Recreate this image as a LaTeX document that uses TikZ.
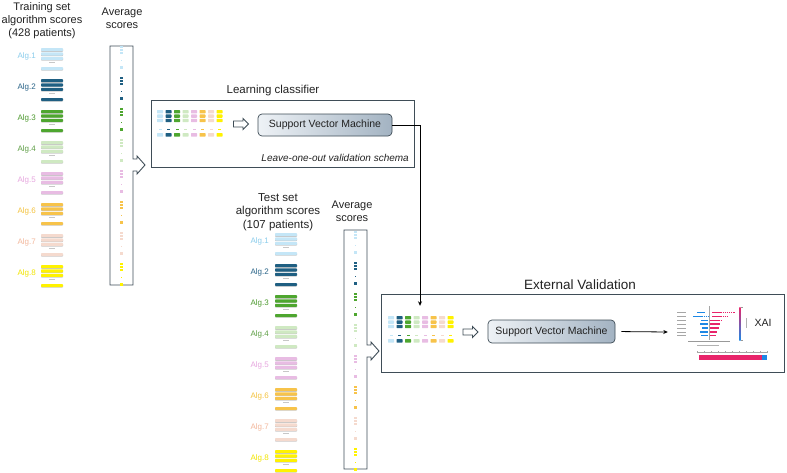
\documentclass[tikz,border=0pt]{standalone}
\usepackage{fontspec}
\setmainfont{Liberation Sans}
\usetikzlibrary{shapes.arrows,positioning,arrows.meta}

\definecolor{algA}{HTML}{C4E6F7}
\definecolor{algB}{HTML}{1F5F82}
\definecolor{algC}{HTML}{4EA62F}
\definecolor{algD}{HTML}{CFE9C2}
\definecolor{algE}{HTML}{E8BCE3}
\definecolor{algF}{HTML}{F7C34A}
\definecolor{algG}{HTML}{F5DACE}
\definecolor{algH}{HTML}{FFF200}
\definecolor{labA}{HTML}{8ACCEB}
\definecolor{labB}{HTML}{2A6488}
\definecolor{labC}{HTML}{4E9A30}
\definecolor{labD}{HTML}{5E9E45}
\definecolor{labE}{HTML}{E6A6DE}
\definecolor{labF}{HTML}{F3C23E}
\definecolor{labG}{HTML}{F2B79C}
\definecolor{labH}{HTML}{F1E400}
\definecolor{inkgray}{HTML}{222222}
\definecolor{framegray}{HTML}{3F4D57}
\definecolor{svmL}{HTML}{EEF2F6}
\definecolor{svmR}{HTML}{A3B3C2}
\definecolor{shapblue}{HTML}{1E88E5}
\definecolor{shappink}{HTML}{E8246A}

\tikzstyle{every picture}=[x=1pt, y=-1pt, >={Stealth[length=4.5pt,width=4pt]}]

% bars of one algorithm (three rows, separator, last row)
\newcommand{\scoregroup}[3]{%
  \foreach \k in {0,1,2}{
    \fill[black!22,rounded corners=0.8pt] (#1,#2+\k*4.4+0.7) rectangle ++(22,3.1);
    \fill[#3,rounded corners=0.8pt] (#1,#2+\k*4.4) rectangle ++(22,3.1);
  }
  \fill[black!22] (#1+8,#2+14) rectangle ++(6,0.8);
  \fill[black!22,rounded corners=0.8pt] (#1,#2+19.7) rectangle ++(22,3);
  \fill[#3,rounded corners=0.8pt] (#1,#2+19) rectangle ++(22,3);
}
% small marks inside an average column
\newcommand{\avgmarks}[3]{%
  \foreach \k in {0,1,2}
    \fill[#3] (#1-1.6,#2-2+\k*3) rectangle ++(3.2,2.2);
  \fill[#3] (#1-0.6,#2+12) rectangle ++(1.2,1.2);
  \fill[#3] (#1-1.6,#2+18) rectangle ++(3.2,2.5);
}
% average column with its arrow
\newcommand{\avgcolumn}[4]{%
  \draw[draw=framegray, line width=0.9pt, line join=miter]
    (#1,#2) -- (#1+23,#2) -- (#1+23,#4-6) -- (#1+27,#4-6) -- (#1+27,#4-9)
    -- (#1+35,#4) -- (#1+27,#4+9) -- (#1+27,#4+6) -- (#1+23,#4+6)
    -- (#1+23,#3) -- (#1,#3) -- cycle;
}
% averaged scores as fed to the classifier
\newcommand{\minigrid}[2]{%
  \foreach \col [count=\j from 0] in {algA,algB,algC,algD,algE,algF,algG,algH}{
    \foreach \k in {0,1,2}
      \fill[\col,rounded corners=0.6pt] (#1+\j*8.5,#2+\k*4.4) rectangle ++(6,3.4);
    \fill[\col] (#1+\j*8.5+1.5,#2+19) rectangle ++(3,1);
    \fill[\col,rounded corners=0.6pt] (#1+\j*8.5,#2+23) rectangle ++(6,3.6);
  }}

\begin{document}
\begin{tikzpicture}[
	title/.style={font=\fontsize{11}{13}\selectfont, text=inkgray, align=center, inner sep=0pt},
	alglabel/.style={font=\fontsize{8}{9}\selectfont, anchor=east, inner sep=0pt},
	panel/.style={draw=framegray, line width=1pt, fill=white},
	svmnode/.style={draw=framegray, line width=0.7pt, rounded corners=4pt,
		left color=svmL, right color=svmR, text=inkgray,
		font=\fontsize{10.5}{12}\selectfont, inner sep=0pt},
	hollow/.style={single arrow, draw=framegray, fill=white, line width=0.8pt,
		minimum height=15pt, minimum width=11pt, inner sep=2.6pt,
		single arrow head extend=2.6pt},
	link/.style={->, draw=black, line width=0.8pt}
	]
	\useasboundingbox (0,0) rectangle (787,472);

	% TRAINING SET
	\node [title] (traintitle) at (42,21) {Training set\\algorithm scores\\(428 patients)};
	\node [title] (trainavg) at (122,18) {Average\\scores};
	\avgcolumn{110}{46}{285}{165}
	\foreach \bar/\lab [count=\i] in {algA/labA,algB/labB,algC/labC,algD/labD,
			algE/labE,algF/labF,algG/labG,algH/labH}{
		\pgfmathsetmacro\gy{48+(\i-1)*31}
		\node [alglabel, text=\lab] (trainalg\i) at (36,\gy+8) {Alg.\i};
		\scoregroup{41}{\gy}{\bar}
		\avgmarks{121.5}{\gy}{\bar}
	}

	% LEARNING
	\node [panel, minimum width=263pt, minimum height=67pt] (learnbox) at (282.5,133.5) {};
	\node [title, font=\fontsize{11.5}{13}\selectfont] (learntitle) at (273,91) {Learning classifier};
	\minigrid{157}{110}
	\node [hollow] (learnarrow) at (239.5,124) {};
	\node [svmnode, minimum width=134pt, minimum height=22pt] (learnsvm) at (325,125) {Support Vector Machine};
	\node [font=\fontsize{10}{12}\selectfont\itshape, text=inkgray, anchor=east, inner sep=0pt]
		(loo) at (409,158) {Leave-one-out validation schema};

	% TEST SET
	\node [title, font=\fontsize{11.5}{13.5}\selectfont] (testtitle) at (278,212) {Test set\\algorithm scores\\(107 patients)};
	\node [title] (testavg) at (352,211.5) {Average\\scores};
	\avgcolumn{344}{230}{469}{351}
	\foreach \bar/\lab [count=\i] in {algA/labA,algB/labB,algC/labC,algD/labD,
			algE/labE,algF/labF,algG/labG,algH/labH}{
		\pgfmathsetmacro\gy{233+(\i-1)*31}
		\node [alglabel, text=\lab] (testalg\i) at (269,\gy+8) {Alg.\i};
		\scoregroup{275}{\gy}{\bar}
		\avgmarks{355.5}{\gy}{\bar}
	}

	% EXTERNAL VALIDATION
	\node [panel, minimum width=403pt, minimum height=78pt] (extbox) at (582.5,333) {};
	\node [title, font=\fontsize{13.5}{15}\selectfont] (exttitle) at (580,285) {External Validation};
	\minigrid{388}{316}
	\node [inner sep=0pt, minimum width=64pt, minimum height=28pt] (extgrid) at (420,330) {};
	\node [hollow] (extarrow) at (469,332) {};
	\node [svmnode, minimum width=127pt, minimum height=23pt] (extsvm) at (551.5,331.5) {Support Vector Machine};
	\node [inner sep=0pt, minimum width=100pt, minimum height=60pt] (xaiplot) at (718,332) {};
	\node [font=\fontsize{10.5}{12}\selectfont, text=inkgray, inner sep=0pt] (xai) at (763,323) {XAI};

	% XAI plot
	\foreach \r in {0,...,6}
		\fill[black!35] (677,{312+\r*3.9}) rectangle ++(9,0.8);
	\draw[black!35, line width=0.3pt] (709,306) -- (709,340);
	\draw[shapblue, line width=1.3pt, dash pattern=on 1.5pt off 0.6pt] (697,312.4) -- (705,312.4);
	\draw[shappink, line width=1.3pt, dash pattern=on 1.5pt off 0.6pt] (712,312.4) -- (735,312.4);
	\draw[shapblue, line width=1.3pt, dash pattern=on 1.5pt off 0.6pt] (693,316.3) -- (708,316.3);
	\draw[shappink, line width=1.3pt, dash pattern=on 1.5pt off 0.6pt] (712,316.3) -- (728,316.3);
	\foreach \r/\a/\b in {2/701/722,3/700/720,4/702/719,5/700/717,6/701/716}{
		\draw[shapblue, line width=1.3pt, dash pattern=on 1.5pt off 0.6pt] (\a,{312.4+\r*3.9}) -- (708,{312.4+\r*3.9});
		\draw[shappink, line width=1.3pt, dash pattern=on 1.5pt off 0.6pt] (710,{312.4+\r*3.9}) -- (\b,{312.4+\r*3.9});
	}
	\shade[top color=shappink, bottom color=shapblue] (739.4,307) rectangle (740.6,340);
	\draw[black!40, line width=0.3pt] (740.6,307) -- (742.5,307) (740.6,340) -- (742.5,340);
	\fill[black!30] (746,318) rectangle ++(0.6,10);
	\draw[black!40, line width=0.3pt] (688,341) -- (730,341);
	\fill[black!30] (697,344.5) rectangle ++(22,0.8);
	\draw[black!35, line width=0.3pt] (697,352) -- (768,352);
	\foreach \x in {697,704,...,767}
		\draw[black!35, line width=0.3pt] (\x,352) -- (\x,350.5);
	\fill[shappink] (699,355) rectangle (762,359.5);
	\fill[shapblue] (762,355) rectangle (767,359.5);

	% CONNECTORS
	\draw [link, shorten >=10pt] (learnsvm.east) -| (extgrid.north);
	\draw [link, shorten <=6pt] (extsvm.east) -- (xaiplot.west);
\end{tikzpicture}
\end{document}
